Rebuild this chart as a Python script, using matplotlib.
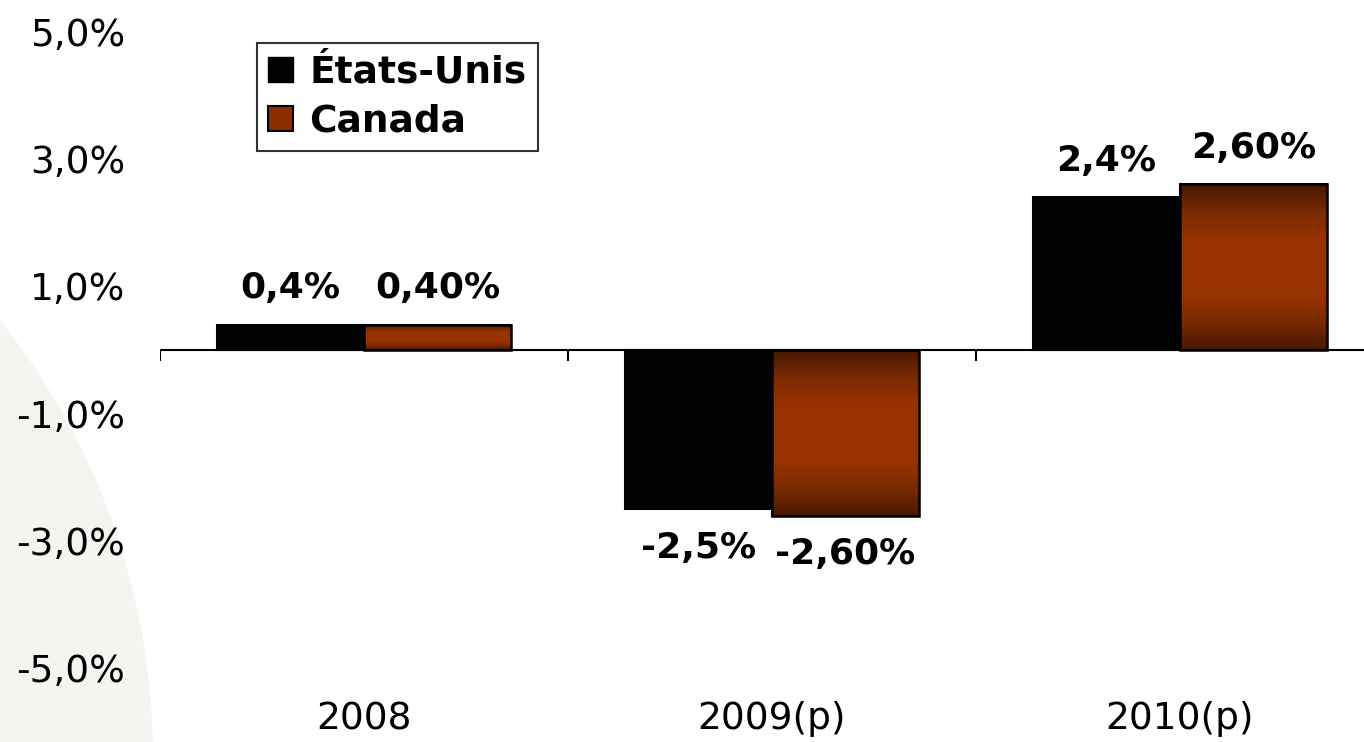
import numpy as np
import matplotlib
matplotlib.use("Agg")
import matplotlib.pyplot as plt
from matplotlib.colors import LinearSegmentedColormap
from matplotlib.patches import Circle, Patch

# data
categories = ["2008", "2009(p)", "2010(p)"]
usa = [0.4, -2.5, 2.4]
canada = [0.4, -2.6, 2.6]
usa_labels = ["0,4%", "-2,5%", "2,4%"]
canada_labels = ["0,40%", "-2,60%", "2,60%"]
yticks = [-5, -3, -1, 1, 3, 5]
ytick_labels = ["-5,0%", "-3,0%", "-1,0%", "1,0%", "3,0%", "5,0%"]

plt.rcParams["font.family"] = ["DejaVu Sans"]
W, H, DPI = 1364, 742, 100
fig = plt.figure(figsize=(W / DPI, H / DPI), dpi=DPI)

# faint background arc on the left
fig.patches.append(Circle((-5.47, -0.15), 7.0, transform=fig.dpi_scale_trans,
                          facecolor="#f4f4f1", edgecolor="none", zorder=-10))

ax = fig.add_axes([160 / W, 42 / H, (W - 160) / W, 700 / H])
ax.patch.set_alpha(0)
x = np.arange(len(categories))
bw = 0.36

ax.bar(x - bw / 2, usa, bw, color="black", edgecolor="black", lw=1.5, zorder=3)
cbars = ax.bar(x + bw / 2, canada, bw, color="#993300", edgecolor="black", lw=1.5, zorder=2)

# vertical gradient on the Canada bars (dark edges, bright middle)
cmap = LinearSegmentedColormap.from_list("brn", ["#461803", "#7a2a02", "#983300", "#993300", "#983300", "#7a2a02", "#461803"])
grad = np.linspace(0, 1, 256).reshape(-1, 1)
for b in cbars:
    x0, y0, w, h = b.get_x(), b.get_y(), b.get_width(), b.get_height()
    im = ax.imshow(grad, extent=(x0, x0 + w, y0, y0 + h), aspect="auto", cmap=cmap,
                   origin="lower", zorder=2.5)
    im.set_clip_path(b)
ax.bar(x + bw / 2, canada, bw, fill=False, edgecolor="black", lw=1.8, zorder=3)

# value labels
for xi, v, t in zip(x - bw / 2, usa, usa_labels):
    ax.annotate(t, (xi, v), xytext=(0, 26 if v > 0 else -28), textcoords="offset points",
                ha="center", va="center", fontsize=26, fontweight="bold")
for xi, v, t in zip(x + bw / 2, canada, canada_labels):
    ax.annotate(t, (xi, v), xytext=(0, 26 if v > 0 else -28), textcoords="offset points",
                ha="center", va="center", fontsize=26, fontweight="bold")

# zero axis with category separators
ax.axhline(0, color="black", lw=1.5, zorder=4)
ax.vlines([-0.5, 0.5, 1.5], -0.17, 0, color="black", lw=1.5, zorder=4)

ax.set_xlim(-0.5, (W - 160) / 408 - 0.5)
ax.set_ylim(-5.495, 5.495)
ax.set_yticks(yticks)
ax.set_yticklabels(ytick_labels, fontsize=27)
ax.set_xticks(x)
ax.set_xticklabels(categories, fontsize=27)
ax.tick_params(axis="y", length=0, pad=25)
ax.tick_params(axis="x", length=0, pad=1)
for s in ax.spines.values():
    s.set_visible(False)

handles = [Patch(facecolor="black", edgecolor="black"),
           Patch(facecolor="#8a2e00", edgecolor="black", lw=1.5)]
leg = ax.legend(handles, ["États-Unis", "Canada"], loc="upper left",
                bbox_to_anchor=(257 / W, 1 - 43 / H), bbox_transform=fig.transFigure,
                borderaxespad=0, fancybox=False, frameon=True, edgecolor="black",
                prop={"size": 27, "weight": "bold"}, handlelength=0.65, handleheight=0.65,
                handletextpad=0.45, labelspacing=0.35, borderpad=0.3)
leg.get_frame().set_linewidth(1.5)

fig.savefig("out.png", dpi=DPI)
